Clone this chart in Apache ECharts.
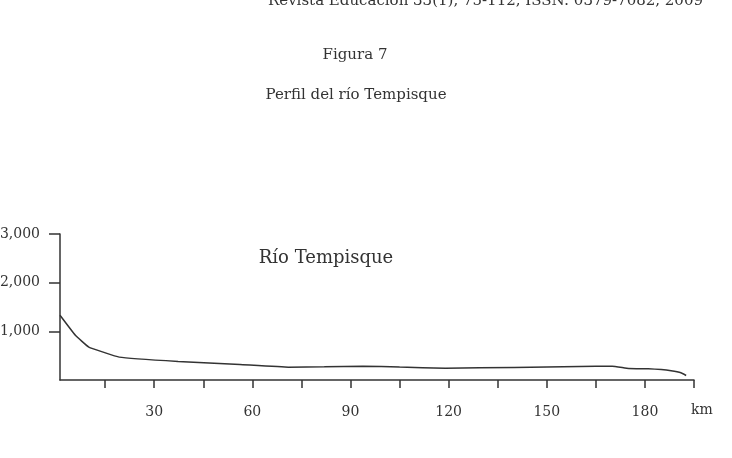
<!DOCTYPE html>
<html>
<head>
<meta charset="utf-8">
<script src="https://cdn.jsdelivr.net/npm/echarts@6/dist/echarts.min.js"></script>
<style>
    html, body { margin: 0; padding: 0; background: #fff; }
    #perfil-chart { width: 732px; height: 458px; }
</style>
</head>
<body>
<div id="perfil-chart"></div>
<script>
const distKm = [1.2, 5.9, 10, 19.3, 37.3, 56.2, 71, 82, 93.8, 105, 119, 140, 160, 170, 175, 181, 185, 188, 191, 192.6];
const altitud = [1330, 918, 676, 470, 381, 320, 264, 272, 285, 265, 243, 258, 275, 285, 237, 231, 215, 190, 148, 93];
const tickKm = [15, 30, 45, 60, 75, 90, 105, 120, 135, 150, 165, 180, 195];
const labelKm = [30, 60, 90, 120, 150, 180];
const labelAlt = [1000, 2000, 3000];

const serif = 'DejaVu Serif';
const ink = '#333';

const chartDom = document.getElementById('perfil-chart');
const myChart = echarts.init(chartDom);
const option = {
    backgroundColor: '#fff',
    animation: false,
    grid: {
        top: 234,
        left: 60,
        width: 634,
        height: 146,
        outerBoundsMode: 'none',
    },
    graphic: [
        {
            type: 'text', x: 703, y: 1,
            style: { text: 'Revista Educación 33(1), 75-112, ISSN: 0379-7082, 2009', font: `15px "${serif}"`, fill: ink, textAlign: 'right', textVerticalAlign: 'middle' },
        },
        {
            type: 'text', x: 355, y: 55,
            style: { text: 'Figura 7', font: `15px "${serif}"`, fill: ink, textAlign: 'center', textVerticalAlign: 'middle' },
        },
        {
            type: 'text', x: 356, y: 95,
            style: { text: 'Perfil del río Tempisque', font: `15px "${serif}"`, fill: ink, textAlign: 'center', textVerticalAlign: 'middle' },
        },
        {
            type: 'text', x: 326, y: 258,
            style: { text: 'Río Tempisque', font: `18px "${serif}"`, fill: ink, textAlign: 'center', textVerticalAlign: 'middle' },
        },
        {
            type: 'text', x: 702, y: 410,
            style: { text: 'km', font: `14px "${serif}"`, fill: ink, textAlign: 'center', textVerticalAlign: 'middle' },
        },
    ],
    xAxis: {
        type: 'value',
        min: 1.2,
        max: 195,
        splitLine: { show: false },
        axisLine: { lineStyle: { color: ink, width: 1.5 } },
        axisTick: {
            customValues: tickKm,
            length: 8,
            lineStyle: { color: ink, width: 1.5 },
        },
        axisLabel: {
            customValues: labelKm,
            margin: 25,
            color: ink,
            fontFamily: serif,
            fontSize: 14,
        },
    },
    yAxis: {
        type: 'value',
        min: 0,
        max: 3000,
        interval: 1000,
        splitLine: { show: false },
        axisLine: { show: true, lineStyle: { color: ink, width: 1.5 } },
        axisTick: {
            show: true,
            customValues: labelAlt,
            length: 11,
            lineStyle: { color: ink, width: 1.5 },
        },
        axisLabel: {
            customValues: labelAlt,
            margin: 20,
            color: ink,
            fontFamily: serif,
            fontSize: 14,
            formatter: (v) => v.toLocaleString('en-US'),
        },
    },
    series: [
        {
            type: 'line',
            data: distKm.map((d, i) => [d, altitud[i]]),
            showSymbol: false,
            smooth: 0.08,
            lineStyle: { color: ink, width: 1.5 },
        },
    ],
};
myChart.setOption(option);
</script>
</body>
</html>
